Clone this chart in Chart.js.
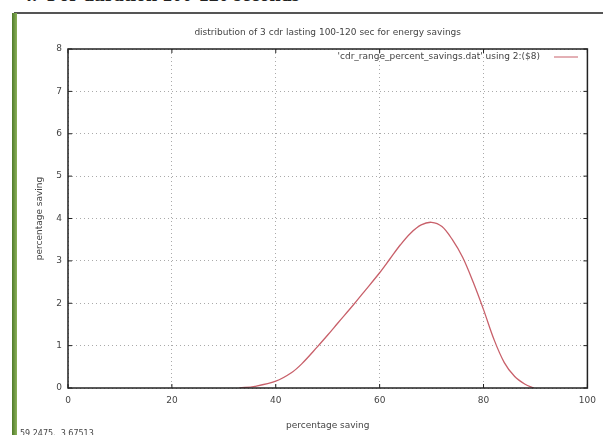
<!DOCTYPE html>
<html>
<head>
<meta charset="utf-8">
<script src="https://cdn.jsdelivr.net/npm/chart.js@4"></script>
<style>
  html, body { margin: 0; padding: 0; background: #fff; width: 603px; height: 435px; overflow: hidden; }
  #wrap { position: relative; width: 603px; height: 435px; }
  #chart { position: absolute; left: 0; top: 0; }
  #docTitle { position: absolute; left: 22px; top: -17px; font: bold 20px "Liberation Serif", serif; color: #222; white-space: pre; }
  #frameTop { position: absolute; left: 14px; top: 12px; width: 589px; height: 2px; background: #555; }
  #frameLeft { position: absolute; left: 12px; top: 13px; width: 5px; height: 422px; background: linear-gradient(to right, #4f7a2a, #8db35a); }
  #coords { position: absolute; left: 20px; top: 429px; font: 8px "DejaVu Sans", sans-serif; color: #444; white-space: pre; }
</style>
</head>
<body>
<div id="wrap">
  <div id="docTitle">4.  For duration 100-120 seconds</div>
  <canvas id="chart" width="603" height="435"></canvas>
  <div id="frameTop"></div>
  <div id="frameLeft"></div>
  <div id="coords">59.2475,  3.67513</div>
</div>
<script>
const chartTitle = "distribution of 3 cdr lasting 100-120 sec for energy savings";
const seriesLabel = "'cdr_range_percent_savings.dat' using 2:($8)";
const xAxisLabel = "percentage saving";
const yAxisLabel = "percentage saving";

const savingX = [33, 36, 40, 43, 45, 48, 50, 52, 55, 57, 60, 62, 64, 66, 68, 70, 72, 74, 76, 78, 80, 82, 84, 86, 88, 89.7];
const savingY = [0, 0.04, 0.16, 0.36, 0.57, 0.97, 1.25, 1.54, 1.97, 2.27, 2.72, 3.05, 3.38, 3.66, 3.85, 3.91, 3.81, 3.5, 3.08, 2.5, 1.85, 1.15, 0.6, 0.27, 0.09, 0];

const xTicks = [0, 20, 40, 60, 80, 100];
const yTicks = [0, 1, 2, 3, 4, 5, 6, 7, 8];

const lineColor = "#c8606a";
const textColor = "#444";
const font = "DejaVu Sans";

// gnuplot style frame, inward ticks, title and in-plot key
const gnuplotFrame = {
    id: "gnuplotFrame",
    afterDraw(chart) {
        const { ctx, chartArea: a, scales: { x, y } } = chart;
        ctx.save();
        ctx.strokeStyle = "#222";
        ctx.lineWidth = 1.5;
        ctx.strokeRect(a.left, a.top, a.right - a.left, a.bottom - a.top);

        ctx.lineWidth = 1;
        xTicks.forEach(v => {
            const px = x.getPixelForValue(v);
            ctx.beginPath();
            ctx.moveTo(px, a.bottom); ctx.lineTo(px, a.bottom - 4);
            ctx.moveTo(px, a.top); ctx.lineTo(px, a.top + 4);
            ctx.stroke();
        });
        yTicks.forEach(v => {
            const py = y.getPixelForValue(v);
            ctx.beginPath();
            ctx.moveTo(a.left, py); ctx.lineTo(a.left + 4, py);
            ctx.moveTo(a.right, py); ctx.lineTo(a.right - 4, py);
            ctx.stroke();
        });

        ctx.fillStyle = textColor;
        ctx.font = "9px " + font;
        ctx.textAlign = "center";
        ctx.textBaseline = "middle";
        ctx.fillText(chartTitle, (a.left + a.right) / 2, 33);

        ctx.textAlign = "right";
        ctx.fillText(seriesLabel, 540, 57);
        ctx.strokeStyle = lineColor;
        ctx.beginPath();
        ctx.moveTo(554, 57); ctx.lineTo(578, 57);
        ctx.stroke();
        ctx.restore();
    }
};

new Chart(document.getElementById("chart"), {
    type: "line",
    data: {
        datasets: [{
            label: seriesLabel,
            data: savingX.map((v, i) => ({ x: v, y: savingY[i] })),
            borderColor: lineColor,
            borderWidth: 1.3,
            pointRadius: 0,
            tension: 0.35,
            fill: false
        }]
    },
    options: {
        responsive: false,
        animation: false,
        layout: { padding: { left: 20, right: 12, top: 49, bottom: 0 } },
        plugins: {
            legend: { display: false },
            title: { display: false },
            tooltip: { enabled: false }
        },
        scales: {
            x: {
                type: "linear",
                min: 0,
                max: 100,
                afterBuildTicks: s => { s.ticks = xTicks.map(v => ({ value: v })); },
                afterFit: s => { s.height = 47; },
                border: { display: false, dash: [1, 3] },
                grid: { color: "#aaa", drawTicks: false },
                ticks: { color: textColor, font: { family: font, size: 9 }, padding: 7, maxRotation: 0 },
                title: { display: true, text: xAxisLabel, color: textColor, font: { family: font, size: 9 }, padding: { top: 4 } }
            },
            y: {
                type: "linear",
                min: 0,
                max: 8,
                afterBuildTicks: s => { s.ticks = yTicks.map(v => ({ value: v })); },
                afterFit: s => { s.width = 48; },
                border: { display: false, dash: [1, 3] },
                grid: { color: "#aaa", drawTicks: false },
                ticks: { color: textColor, font: { family: font, size: 9 }, padding: 6 },
                title: { display: true, text: yAxisLabel, color: textColor, font: { family: font, size: 9 }, padding: { top: 14 } }
            }
        }
    },
    plugins: [gnuplotFrame]
});
</script>
</body>
</html>
